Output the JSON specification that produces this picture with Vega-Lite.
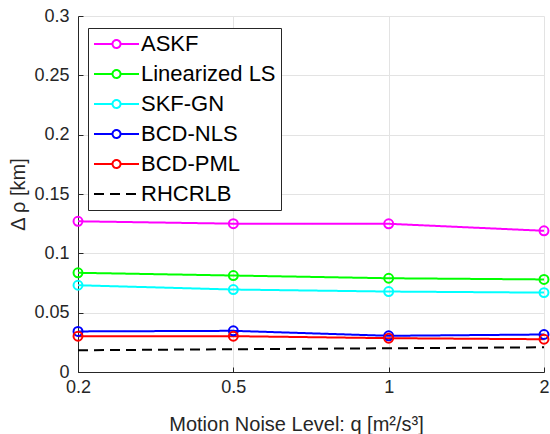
{
  "$schema": "https://vega.github.io/schema/vega-lite/v6.json",
  "width": 466,
  "height": 356,
  "autosize": {"type": "none"},
  "padding": {"left": 78, "top": 16, "right": 6, "bottom": 62},
  "background": "white",
  "config": {
    "font": "Liberation Sans",
    "view": {"stroke": null},
    "axis": {
      "domainColor": "#262626",
      "tickColor": "#262626",
      "labelColor": "#262626",
      "titleColor": "#262626",
      "gridColor": "#e3e3e3",
      "gridOpacity": 1,
      "labelFontSize": 18,
      "titleFontSize": 20,
      "titleFontWeight": "normal",
      "labelFont": "Liberation Sans",
      "titleFont": "Liberation Sans",
      "tickSize": -5,
      "domainWidth": 1
    },
    "legend": {
      "orient": "none",
      "legendX": 10,
      "legendY": 12,
      "labelFont": "Liberation Sans",
      "labelFontSize": 22,
      "labelColor": "#000000",
      "symbolSize": 400,
      "symbolStrokeWidth": 2,
      "labelOffset": 26,
      "padding": 5,
      "rowPadding": 8,
      "strokeColor": "#262626",
      "fillColor": "white",
      "cornerRadius": 0,
      "labelLimit": 300
    }
  },
  "data": {
    "values": [
      {"q": "0.2", "method": "ASKF", "v": 0.127},
      {"q": "0.5", "method": "ASKF", "v": 0.125},
      {"q": "1", "method": "ASKF", "v": 0.1249},
      {"q": "2", "method": "ASKF", "v": 0.119},
      {"q": "0.2", "method": "Linearized LS", "v": 0.0836},
      {"q": "0.5", "method": "Linearized LS", "v": 0.0813},
      {"q": "1", "method": "Linearized LS", "v": 0.079},
      {"q": "2", "method": "Linearized LS", "v": 0.078},
      {"q": "0.2", "method": "SKF-GN", "v": 0.0731},
      {"q": "0.5", "method": "SKF-GN", "v": 0.0695},
      {"q": "1", "method": "SKF-GN", "v": 0.0678},
      {"q": "2", "method": "SKF-GN", "v": 0.0669},
      {"q": "0.2", "method": "BCD-NLS", "v": 0.0342},
      {"q": "0.5", "method": "BCD-NLS", "v": 0.0347},
      {"q": "1", "method": "BCD-NLS", "v": 0.0305},
      {"q": "2", "method": "BCD-NLS", "v": 0.0316},
      {"q": "0.2", "method": "BCD-PML", "v": 0.0302},
      {"q": "0.5", "method": "BCD-PML", "v": 0.0302},
      {"q": "1", "method": "BCD-PML", "v": 0.0285},
      {"q": "2", "method": "BCD-PML", "v": 0.0276},
      {"q": "0.2", "method": "RHCRLB", "v": 0.0183},
      {"q": "0.5", "method": "RHCRLB", "v": 0.0192},
      {"q": "1", "method": "RHCRLB", "v": 0.02},
      {"q": "2", "method": "RHCRLB", "v": 0.0208}
    ]
  },
  "encoding": {
    "x": {
      "field": "q",
      "type": "ordinal",
      "sort": ["0.2", "0.5", "1", "2"],
      "scale": {"type": "point", "padding": 0},
      "axis": {"labelAngle": 0, "title": "Motion Noise Level: q  [m²/s³]", "grid": true, "labelPadding": 11, "titlePadding": 18, "titleX": 218, "titleAlign": "center"}
    },
    "y": {
      "field": "v",
      "type": "quantitative",
      "scale": {"domain": [0, 0.3], "nice": false},
      "axis": {"values": [0, 0.05, 0.1, 0.15, 0.2, 0.25, 0.3], "format": "~r", "title": "Δ ρ [km]", "labelPadding": 14, "titlePadding": 5}
    },
    "color": {
      "field": "method",
      "type": "nominal",
      "scale": {
        "domain": ["ASKF", "Linearized LS", "SKF-GN", "BCD-NLS", "BCD-PML", "RHCRLB"],
        "range": ["#ff00ff", "#00ff00", "#00ffff", "#0000ff", "#ff0000", "#000000"]
      },
      "legend": {
        "title": null,
        "encode": {
          "symbols": {
            "update": {
              "shape": [
                {"test": "datum.value === 'RHCRLB'", "value": "M-1,0L3.5,0"},
                {"value": "M-1,0L0.85,0M1.65,0L3.5,0M1.65,0A0.4,0.4 0 1 1 0.85,0A0.4,0.4 0 1 1 1.65,0"}
              ]
            }
          }
        }
      }
    }
  },
  "layer": [
    {
      "mark": {"type": "line", "strokeWidth": 2},
      "encoding": {
        "strokeDash": {
          "field": "method",
          "type": "nominal",
          "scale": {
            "domain": ["ASKF", "Linearized LS", "SKF-GN", "BCD-NLS", "BCD-PML", "RHCRLB"],
            "range": [[1, 0], [1, 0], [1, 0], [1, 0], [1, 0], [10, 6]]
          },
          "legend": {
            "title": null,
            "encode": {
              "symbols": {
                "update": {
                  "shape": [
                    {"test": "datum.value === 'RHCRLB'", "value": "M-1,0L3.5,0"},
                    {"value": "M-1,0L0.85,0M1.65,0L3.5,0M1.65,0A0.4,0.4 0 1 1 0.85,0A0.4,0.4 0 1 1 1.65,0"}
                  ]
                }
              }
            }
          }
        }
      }
    },
    {
      "transform": [{"filter": "datum.method !== 'RHCRLB'"}],
      "mark": {"type": "point", "filled": false, "strokeWidth": 2, "size": 80, "opacity": 1}
    }
  ]
}
